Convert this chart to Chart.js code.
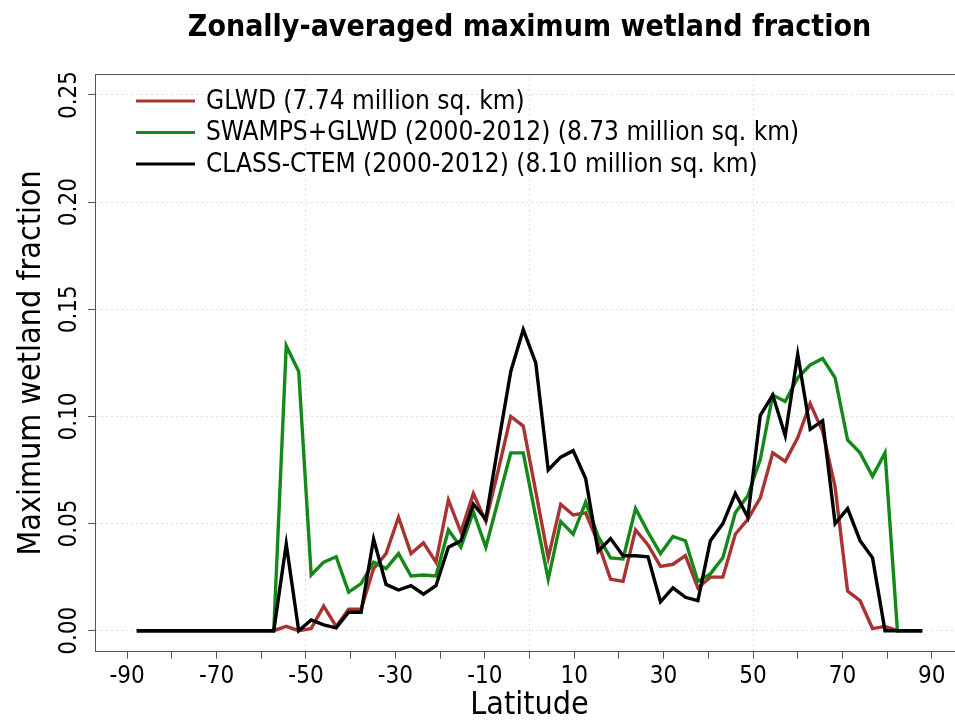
<!DOCTYPE html>
<html>
<head>
<meta charset="utf-8">
<script src="https://cdn.jsdelivr.net/npm/chart.js@4/dist/chart.umd.min.js"></script>
<style>
html,body{margin:0;padding:0;background:#fff;overflow:hidden;width:955px;height:725px}
#wrap{width:975px;height:725px;position:relative}
</style>
</head>
<body>
<div id="wrap"><canvas id="c" width="975" height="725"></canvas></div>
<script>
const TITLE = 'Zonally-averaged maximum wetland fraction';
const X_TITLE = 'Latitude';
const Y_TITLE = 'Maximum wetland fraction';

const seriesLabels = [
  'GLWD (7.74 million sq. km)',
  'SWAMPS+GLWD (2000-2012) (8.73 million sq. km)',
  'CLASS-CTEM (2000-2012) (8.10 million sq. km)'
];
const seriesColors = ['#a83333', '#14891a', '#000000'];

const latitudes = [
  -87.86, -85.10, -82.31, -79.53, -76.74, -73.95, -71.16, -68.37, -65.58, -62.79,
  -60.00, -57.21, -54.42, -51.63, -48.84, -46.04, -43.25, -40.46, -37.67, -34.88,
  -32.09, -29.30, -26.51, -23.72, -20.93, -18.14, -15.35, -12.56, -9.77, -6.98,
  -4.19, -1.40, 1.40, 4.19, 6.98, 9.77, 12.56, 15.35, 18.14, 20.93,
  23.72, 26.51, 29.30, 32.09, 34.88, 37.67, 40.46, 43.25, 46.04, 48.84,
  51.63, 54.42, 57.21, 60.00, 62.79, 65.58, 68.37, 71.16, 73.95, 76.74,
  79.53, 82.31, 85.10, 87.86
];

const glwd = [
  0, 0, 0, 0, 0, 0, 0, 0, 0, 0,
  0, 0, 0.002, 0.000, 0.001, 0.0115, 0.002, 0.010, 0.010, 0.029,
  0.036, 0.053, 0.036, 0.041, 0.032, 0.061, 0.046, 0.064, 0.051, 0.075,
  0.100, 0.0955, 0.065, 0.034, 0.059, 0.054, 0.055, 0.041, 0.024, 0.023,
  0.047, 0.040, 0.030, 0.031, 0.035, 0.020, 0.025, 0.025, 0.045, 0.052,
  0.062, 0.083, 0.079, 0.090, 0.106, 0.093, 0.067, 0.0185, 0.014, 0.001,
  0.002, 0, 0, 0
];

const swampsGlwd = [
  0, 0, 0, 0, 0, 0, 0, 0, 0, 0,
  0, 0, 0.133, 0.121, 0.026, 0.032, 0.0345, 0.018, 0.022, 0.032,
  0.029, 0.036, 0.0255, 0.026, 0.0255, 0.047, 0.039, 0.0555, 0.039, 0.061,
  0.083, 0.083, 0.053, 0.024, 0.051, 0.045, 0.060, 0.044, 0.034, 0.0335,
  0.057, 0.046, 0.036, 0.044, 0.042, 0.023, 0.0265, 0.034, 0.055, 0.063,
  0.080, 0.110, 0.107, 0.118, 0.124, 0.127, 0.118, 0.089, 0.083, 0.072,
  0.083, 0, 0, 0
];

const classCtem = [
  0, 0, 0, 0, 0, 0, 0, 0, 0, 0,
  0, 0, 0.0405, 0, 0.005, 0.0027, 0.0013, 0.0086, 0.0086, 0.0428,
  0.0216, 0.019, 0.021, 0.017, 0.021, 0.039, 0.042, 0.059, 0.052, 0.087,
  0.121, 0.1405, 0.125, 0.075, 0.081, 0.084, 0.071, 0.037, 0.043, 0.035,
  0.035, 0.0345, 0.0135, 0.020, 0.0156, 0.014, 0.042, 0.050, 0.064, 0.053,
  0.1005, 0.110, 0.091, 0.129, 0.094, 0.098, 0.050, 0.057, 0.042, 0.034,
  0, 0, 0, 0
];

const xLabeledTicks = [-90, -70, -50, -30, -10, 10, 30, 50, 70, 90];
const xMinorTicks = [-80, -60, -40, -20, 0, 20, 40, 60, 80];
const xGridValues = [-50, 0, 50];
const yTickValues = [0, 0.05, 0.10, 0.15, 0.20, 0.25];
const yTickLabels = ['0.00', '0.05', '0.10', '0.15', '0.20', '0.25'];

const FONT = "'DejaVu Sans Condensed', 'Liberation Sans Narrow', 'DejaVu Sans', sans-serif";
const GRID_COLOR = '#dedede';

function toPoints(vals) { return latitudes.map((x, i) => ({x: x, y: vals[i]})); }
const seriesValues = [glwd, swampsGlwd, classCtem];

const datasets = seriesValues.map((vals, i) => ({
  label: seriesLabels[i],
  data: toPoints(vals),
  borderColor: seriesColors[i],
  backgroundColor: seriesColors[i],
  borderWidth: 3.4,
  pointRadius: 0,
  tension: 0,
  fill: false,
  order: 3 - i
}));

const extrasPlugin = {
  id: 'extras',
  afterDraw(chart) {
    const ctx = chart.ctx;
    const a = chart.chartArea;
    const ys = chart.scales.y;
    ctx.save();
    // top and right frame lines
    ctx.strokeStyle = '#555';
    ctx.lineWidth = 1;
    ctx.beginPath();
    ctx.moveTo(a.left, a.top + 0.5);
    ctx.lineTo(a.right, a.top + 0.5);
    ctx.moveTo(a.right - 0.5, a.top);
    ctx.lineTo(a.right - 0.5, a.bottom);
    ctx.stroke();
    // title centred over the plot region
    ctx.fillStyle = '#000';
    ctx.font = "bold 30px " + FONT;
    ctx.textAlign = 'center';
    ctx.textBaseline = 'alphabetic';
    ctx.fillText(TITLE, (a.left + a.right) / 2, 36);
    // rotated y tick labels
    ctx.font = "24px " + FONT;
    ctx.textBaseline = 'middle';
    yTickValues.forEach((v, i) => {
      const py = ys.getPixelForValue(v);
      ctx.save();
      ctx.translate(a.left - 25, py);
      ctx.rotate(-Math.PI / 2);
      ctx.fillText(yTickLabels[i], 0, 0);
      ctx.restore();
    });
    // legend
    ctx.font = "26px " + FONT;
    ctx.textAlign = 'left';
    chart.data.datasets.forEach((ds, i) => {
      const y = a.top + 27 + i * 31.5;
      ctx.strokeStyle = ds.borderColor;
      ctx.lineWidth = 3.2;
      ctx.beginPath();
      ctx.moveTo(a.left + 41, y);
      ctx.lineTo(a.left + 100, y);
      ctx.stroke();
      ctx.fillStyle = '#000';
      ctx.fillText(ds.label, a.left + 111, y + 1);
    });
    ctx.restore();
  }
};

new Chart(document.getElementById('c'), {
  type: 'line',
  data: { datasets: datasets },
  options: {
    responsive: false,
    animation: false,
    devicePixelRatio: 1,
    layout: { padding: { top: 74, right: 11, left: 0, bottom: 0 } },
    plugins: { legend: { display: false }, tooltip: { enabled: false }, title: { display: false } },
    scales: {
      x: {
        type: 'linear',
        min: -97.2,
        max: 97.2,
        afterBuildTicks: s => { s.ticks = xLabeledTicks.concat(xMinorTicks).sort((p, q) => p - q).map(v => ({value: v})); },
        afterFit: s => { s.height = 73.3; },
        ticks: {
          autoSkip: false, maxRotation: 0, minRotation: 0, padding: 4, color: '#000',
          font: { family: FONT, size: 24 },
          callback: v => xLabeledTicks.includes(v) ? String(v) : ''
        },
        grid: {
          color: c => (c.tick && xGridValues.includes(c.tick.value)) ? GRID_COLOR : 'rgba(0,0,0,0)',
          lineWidth: 1, tickLength: 7, tickColor: '#555', tickWidth: 1
        },
        border: { display: true, color: '#555', width: 1, dash: [2, 3] },
        title: { display: true, text: X_TITLE, color: '#000', font: { family: FONT, size: 32 }, padding: { top: 0, bottom: 0 } }
      },
      y: {
        type: 'linear',
        min: -0.0098,
        max: 0.2598,
        afterBuildTicks: s => { s.ticks = yTickValues.map(v => ({value: v})); },
        afterFit: s => { s.width = 95; },
        ticks: { display: false },
        grid: { color: GRID_COLOR, lineWidth: 1, tickLength: 7, tickColor: '#555', tickWidth: 1 },
        border: { display: true, color: '#555', width: 1, dash: [2, 3] },
        title: { display: true, text: Y_TITLE, color: '#000', font: { family: FONT, size: 32 }, padding: { top: 12, bottom: 0 } }
      }
    }
  },
  plugins: [extrasPlugin]
});
</script>
</body>
</html>
